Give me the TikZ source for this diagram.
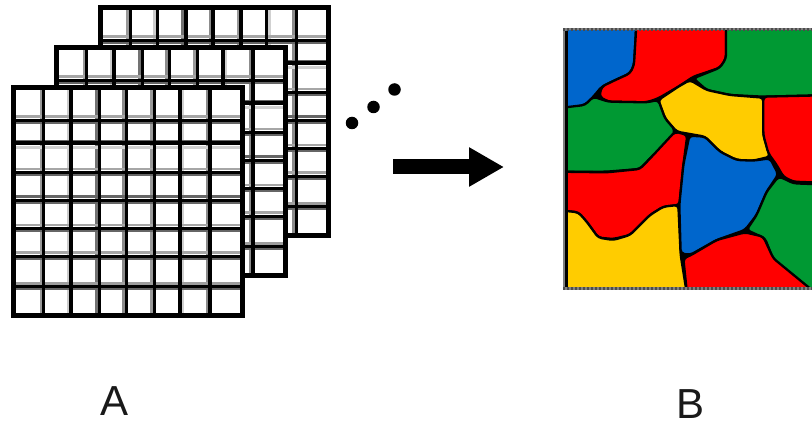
\documentclass[tikz,border=0pt]{standalone}
\usepackage{fontspec}
\setmainfont{Liberation Sans}
\usetikzlibrary{arrows.meta}
\definecolor{mapblue}{HTML}{0066CC}
\definecolor{mapred}{HTML}{FF0000}
\definecolor{mapgreen}{HTML}{009933}
\definecolor{mapyellow}{HTML}{FFCC00}
\tikzset{
  gridline/.style={draw=black,line width=3.1pt},
  gridedge/.style={draw=black,line width=5pt,line join=miter},
  region/.style={draw=black,line width=2.3pt,line join=round,rounded corners=3.5pt},
  dotmark/.style={circle,fill=black,inner sep=0pt,minimum size=12.5pt},
  biglabel/.style={font=\fontsize{42}{42}\selectfont,inner sep=0pt,text=black!90},
  bigarrow/.style={draw=black,line width=15pt,-{Triangle[length=35pt,width=37pt]}}
}
\newcommand{\gridsheet}[2]{%
  \begin{scope}[shift={(#1,#2)}]
    \fill[white] (13.5,88) rectangle (242,316);
    % soft shading beside the vertical lines
    \foreach \gx/\gc in {40.8/40,67.8/20,96.2/55,123.5/45,151.5/40,183/18,206.8/45}
      \draw[line width=2.6pt,draw=black!\gc!white] (\gx,88) -- (\gx,316);
    % soft shading beside the horizontal lines
    \foreach \hy/\hc in {116.5/35,147.5/18,169/35,196.5/60,225/35,252.5/35,283.5/38}
      \draw[line width=2.4pt,draw=black!\hc!white] (13.5,\hy) -- (242,\hy);
    \foreach \hy in {123,140.5,175,203,231,259,289}
      \draw[line width=1.8pt,draw=black!60!white] (13.5,\hy) -- (242,\hy);
    \foreach \vx in {43.7,71,99.5,126.5,154.5,180,210}
      \draw[gridline] (\vx,88) -- (\vx,316);
    \foreach \hy in {120.5,143,172.5,200.5,228.5,256.5,286.5}
      \draw[gridline] (13.5,\hy) -- (242,\hy);
    \draw[gridedge] (13.5,88) rectangle (242,316);
  \end{scope}}
\begin{document}
\begin{tikzpicture}[x=1pt,y=-1pt]
\useasboundingbox (0,0) rectangle (812,422);
\fill[white] (0,0) rectangle (812,422);
\gridsheet{86.5}{-80}
\gridsheet{43}{-40}
\gridsheet{0}{0}

\node[dotmark] (d1) at (352,123) {};
\node[dotmark] (d2) at (373.5,107) {};
\node[dotmark] (d3) at (394.5,89.5) {};

\coordinate (arrowstart) at (393,167);
\coordinate (arrowend) at (504,167);
\draw[bigarrow] (arrowstart) -- (arrowend);

\begin{scope}
\clip (560,20) rectangle (812,295);
\begin{scope}[shift={(550,15)},x=0.33333pt,y=-0.33333pt]
  \fill[black!50!white] (40,40) rectangle (830,825);
  \fill[black] (50,48) rectangle (830,815);
  \begin{scope}
  \clip (50,48) rectangle (830,815);
  % blue top left
  \filldraw[region,fill=mapblue] (20,18) -- (258,18) -- (258,48) -- (252,150) -- (240,175) -- (190,198) -- (155,215) -- (130,245) -- (105,270) -- (50,280) -- (20,280) -- cycle;
  % red top
  \filldraw[region,fill=mapred] (258,18) -- (528,18) -- (528,130) -- (510,158) -- (430,185) -- (385,215) -- (325,250) -- (290,262) -- (175,260) -- (148,245) -- (155,215) -- (190,198) -- (240,175) -- (252,150) -- (258,48) -- cycle;
  % green top
  \filldraw[region,fill=mapgreen] (528,18) -- (860,18) -- (860,240) -- (640,245) -- (540,240) -- (470,225) -- (430,190) -- (510,158) -- (528,130) -- cycle;
  % yellow middle
  \filldraw[region,fill=mapyellow] (420,195) -- (470,225) -- (540,240) -- (640,248) -- (640,360) -- (660,425) -- (610,437) -- (560,435) -- (510,410) -- (465,365) -- (380,350) -- (345,310) -- (325,255) -- (385,215) -- cycle;
  % red right
  \filldraw[region,fill=mapred] (640,245) -- (860,240) -- (860,505) -- (730,500) -- (700,485) -- (680,450) -- (655,415) -- (640,360) -- cycle;
  % green left
  \filldraw[region,fill=mapgreen] (20,280) -- (105,270) -- (130,245) -- (175,260) -- (290,262) -- (325,255) -- (345,310) -- (375,345) -- (360,380) -- (310,420) -- (270,462) -- (170,470) -- (20,470) -- cycle;
  % red left
  \filldraw[region,fill=mapred] (20,470) -- (170,472) -- (270,462) -- (310,420) -- (375,350) -- (412,360) -- (400,450) -- (388,570) -- (340,575) -- (300,600) -- (240,660) -- (190,672) -- (145,668) -- (110,620) -- (85,592) -- (20,585) -- cycle;
  % yellow bottom
  \filldraw[region,fill=mapyellow] (20,585) -- (85,592) -- (110,620) -- (145,668) -- (190,675) -- (240,660) -- (300,600) -- (340,575) -- (385,570) -- (392,720) -- (412,845) -- (20,845) -- cycle;
  % blue centre
  \filldraw[region,fill=mapblue] (418,362) -- (465,365) -- (510,410) -- (560,435) -- (610,437) -- (660,430) -- (685,478) -- (650,530) -- (620,600) -- (585,645) -- (500,675) -- (420,720) -- (392,715) -- (388,570) -- (400,450) -- cycle;
  % green right
  \filldraw[region,fill=mapgreen] (685,485) -- (700,490) -- (730,505) -- (860,510) -- (860,845) -- (810,845) -- (670,735) -- (645,670) -- (590,645) -- (620,600) -- (650,530) -- cycle;
  % red bottom
  \filldraw[region,fill=mapred] (400,730) -- (420,722) -- (500,675) -- (585,652) -- (640,665) -- (670,730) -- (810,845) -- (412,845) -- cycle;
  \end{scope}
  % frame
  \draw[line width=2.6pt,draw=black!70!white,dash pattern=on 2pt off 2pt] (40,44) -- (830,44);
  \draw[line width=2.6pt,draw=black!70!white,dash pattern=on 2pt off 2pt] (40,820) -- (830,820);
  \draw[line width=3.5pt,draw=black] (50,48) -- (50,815);
\end{scope}
\end{scope}

\node[biglabel] (labelA) at (115,401.5) {A};
\node[biglabel] (labelB) at (691,404.5) {B};
\end{tikzpicture}
\end{document}
